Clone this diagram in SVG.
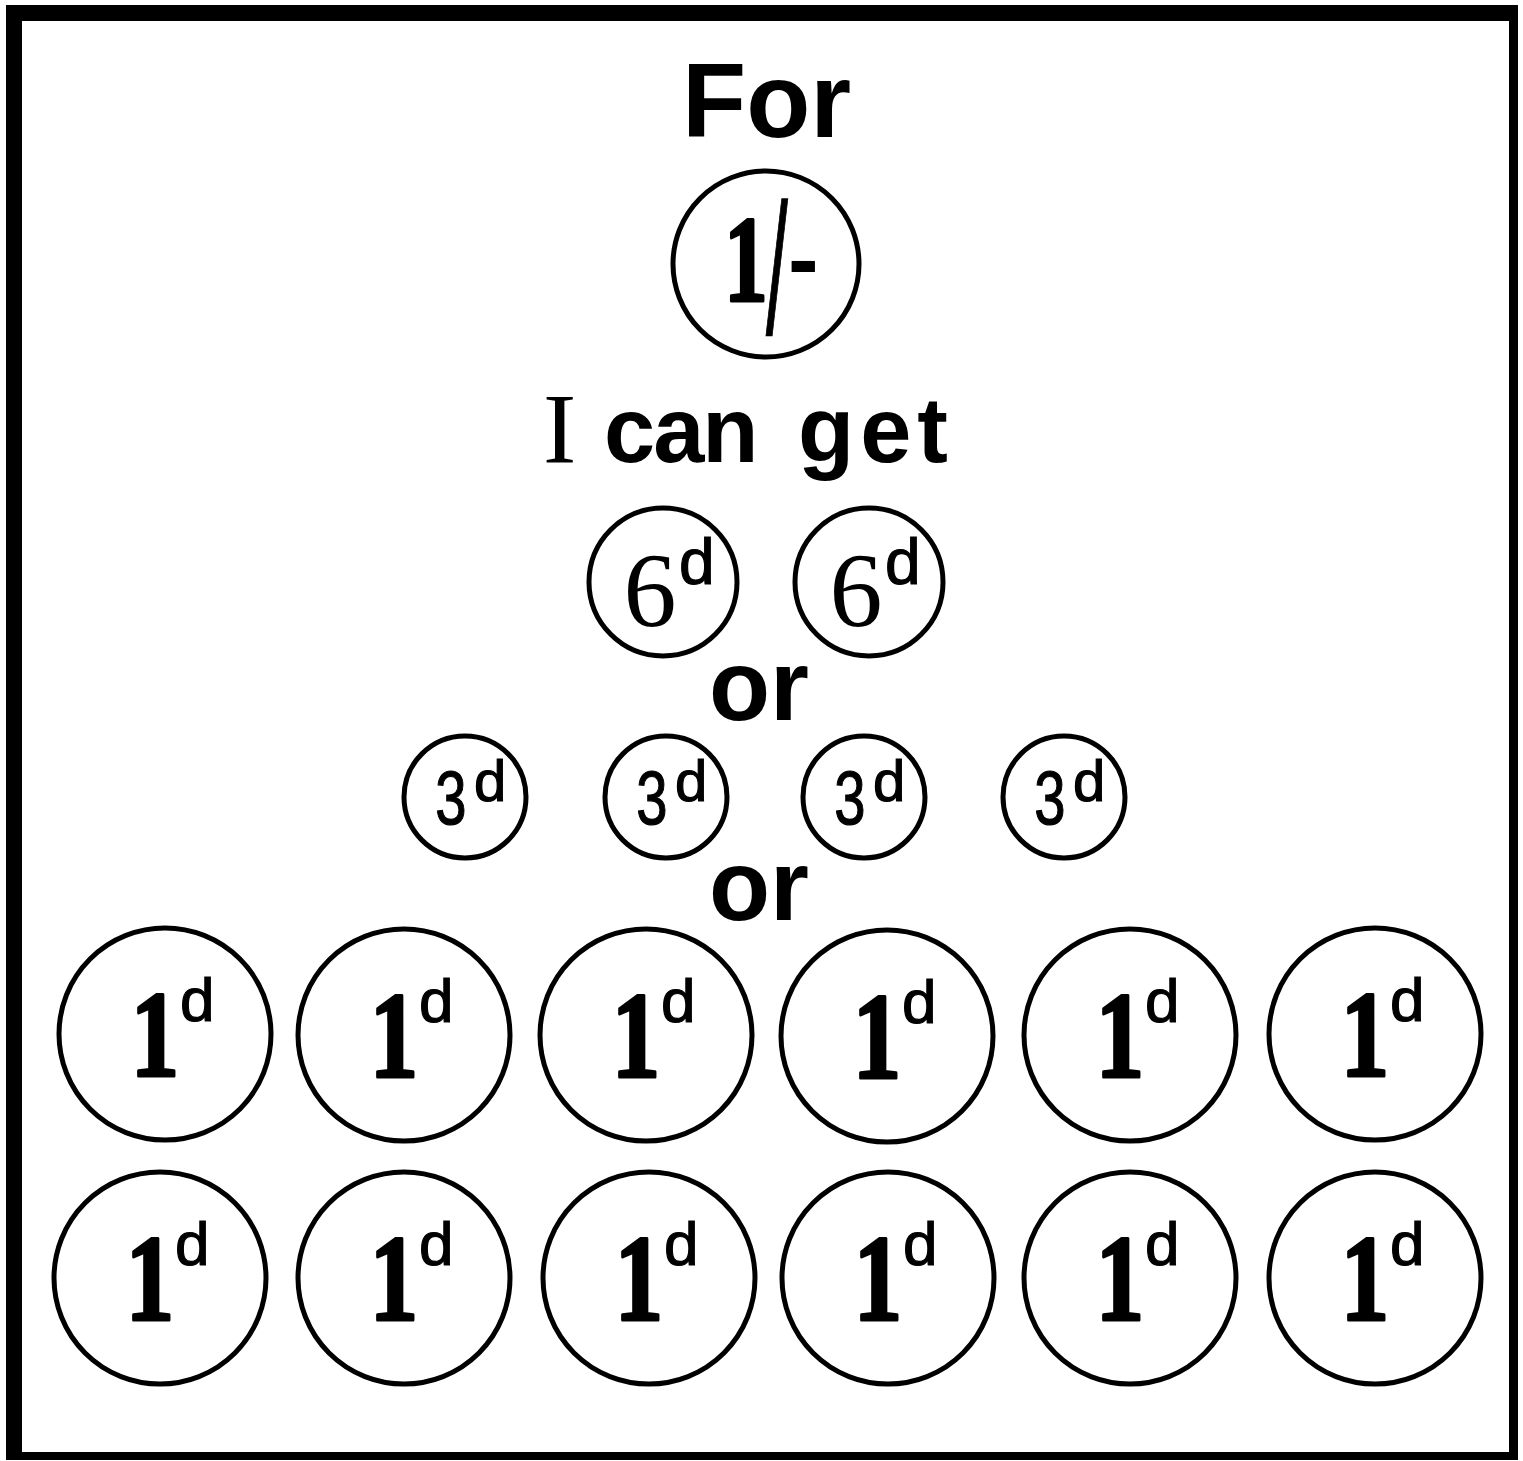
<svg xmlns="http://www.w3.org/2000/svg" width="1523" height="1461" viewBox="0 0 1523 1461">
  <style>
    .coin { fill: none; stroke: #000; stroke-width: 5; }
    .word { font-family: "Liberation Sans", Arial, sans-serif; font-weight: bold; fill: #000; }
    .serif { font-family: "Liberation Serif", "Times New Roman", serif; fill: #000; }
    .num1 { font-family: "Liberation Serif", "Times New Roman", serif; font-weight: 700; font-size: 122px; text-anchor: middle; fill: #000; stroke: #000; stroke-width: 3; stroke-linejoin: round; }
    .sup { font-family: "Liberation Sans", Arial, sans-serif; fill: #000; stroke: #000; stroke-width: 1.2; }
    .d1 { font-size: 62px; }
    .d6 { font-size: 64px; }
    .d3 { font-size: 58px; }
    .six { font-size: 106px; text-anchor: middle; }
    .three { font-family: "Liberation Sans", Arial, sans-serif; font-size: 76px; text-anchor: middle; fill: #000; stroke: #000; stroke-width: 1.2; }
  </style>
  <defs>
    <!-- one-penny coin, centred on the origin -->
    <g id="penny">
      <circle class="coin" r="106"/>
      <text class="num1" transform="translate(-10,42) scale(0.8,1)">1</text>
      <text class="sup d1" x="15" y="-13">d</text>
    </g>
    <!-- threepenny coin -->
    <g id="threepence">
      <circle class="coin" r="61"/>
      <text class="three" transform="translate(-14,27) scale(0.74,1)">3</text>
      <text class="sup d3" x="9" y="4">d</text>
    </g>
    <!-- sixpenny coin -->
    <g id="sixpence">
      <circle class="coin" r="74"/>
      <text class="serif six" x="-13" y="44">6</text>
      <text class="sup d6" x="16" y="2">d</text>
    </g>
  </defs>

  <rect width="1523" height="1461" fill="#fff"/>

  <!-- heavy frame -->
  <path id="frame" fill="#000" fill-rule="evenodd" d="M6 5 H1518 V1460 H6 Z M22 21 H1509 V1452 H22 Z"/>

  <!-- headings -->
  <g id="label-for"><text class="word" x="682" y="137" font-size="105">For</text></g>
  <g id="label-icanget">
    <text class="serif" x="543" y="462" font-size="100">I</text>
    <text class="word" x="604" y="462" font-size="92" letter-spacing="-2">can</text>
    <text class="word" x="798" y="462" font-size="92" letter-spacing="6">get</text>
  </g>
  <g id="label-or1"><text class="word" x="709" y="720" font-size="100">or</text></g>
  <g id="label-or2"><text class="word" x="709" y="920" font-size="100">or</text></g>

  <!-- one shilling -->
  <g id="coin-shilling">
    <circle class="coin" cx="766" cy="264" r="93"/>
    <text class="num1" transform="translate(746,301) scale(0.72,1)">1</text>
    <text class="sup" font-size="135" stroke-width="0" transform="translate(766,334) scale(0.58,1.37)">/</text>
    <text class="word" x="788" y="291" font-size="92">-</text>
  </g>

  <!-- two sixpences -->
  <g id="coin-6d-1"><use href="#sixpence" x="663" y="582"/></g>
  <g id="coin-6d-2"><use href="#sixpence" x="869" y="582"/></g>

  <!-- four threepences -->
  <g id="coin-3d-1"><use href="#threepence" x="465" y="797"/></g>
  <g id="coin-3d-2"><use href="#threepence" x="666" y="797"/></g>
  <g id="coin-3d-3"><use href="#threepence" x="864" y="797"/></g>
  <g id="coin-3d-4"><use href="#threepence" x="1064" y="797"/></g>

  <!-- twelve pennies, two rows -->
  <g id="coin-1d-1"><use href="#penny" x="165" y="1034"/></g>
  <g id="coin-1d-2"><use href="#penny" x="404" y="1035"/></g>
  <g id="coin-1d-3"><use href="#penny" x="646" y="1035"/></g>
  <g id="coin-1d-4"><use href="#penny" x="887" y="1036"/></g>
  <g id="coin-1d-5"><use href="#penny" x="1130" y="1035"/></g>
  <g id="coin-1d-6"><use href="#penny" x="1375" y="1034"/></g>
  <g id="coin-1d-7"><use href="#penny" x="160" y="1278"/></g>
  <g id="coin-1d-8"><use href="#penny" x="404" y="1278"/></g>
  <g id="coin-1d-9"><use href="#penny" x="649" y="1278"/></g>
  <g id="coin-1d-10"><use href="#penny" x="888" y="1278"/></g>
  <g id="coin-1d-11"><use href="#penny" x="1130" y="1278"/></g>
  <g id="coin-1d-12"><use href="#penny" x="1375" y="1278"/></g>

  <g id="connectors"/>
</svg>
